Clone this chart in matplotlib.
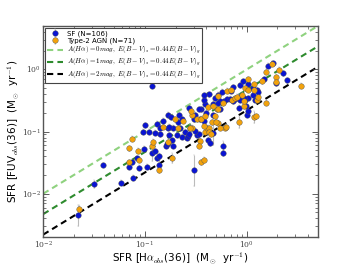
import matplotlib

matplotlib.use("Agg")

import matplotlib.pyplot as plt
import numpy as np

plt.rcParams["mathtext.fontset"] = "cm"
plt.rcParams["font.family"] = ["DejaVu Sans"]

# SF galaxies: SFR(Halpha_obs), SFR(FUV_obs)
sf_x = [0.116, 0.0218, 0.0315, 0.039, 0.058, 0.077, 0.088, 0.096, 0.10, 0.109,
        0.116, 0.132, 0.137, 0.13, 0.151, 0.16, 0.17, 0.17, 0.173, 0.183,
        0.19, 0.216, 0.211, 0.221, 0.231, 0.233, 0.257, 0.267, 0.273, 0.277,
        0.30, 0.303, 0.322, 0.342, 0.31, 0.347, 0.38, 0.39, 0.40, 0.42,
        0.436, 0.47, 0.47, 0.426, 0.47, 0.49, 0.527, 0.547, 0.577, 0.60,
        0.58, 0.59, 0.70, 0.74, 0.77, 0.86, 0.83, 0.91, 1.02, 1.16,
        1.02, 0.96, 0.93, 1.0, 1.04, 0.985, 1.16, 1.21, 1.25, 1.30,
        1.48, 1.61, 1.83, 1.93, 2.26, 2.51, 0.38, 0.353, 0.247, 0.205,
        0.167, 0.141, 0.098, 0.083, 0.074, 0.070, 0.547, 0.636, 0.686, 0.74,
        0.83, 0.527, 0.383, 0.34, 0.31, 0.273, 0.172, 0.18, 0.141, 0.125,
        0.138, 0.104, 0.163, 0.19, 0.86, 0.125]
sf_y = [0.545, 0.0045, 0.0144, 0.029, 0.015, 0.018, 0.026, 0.10, 0.127, 0.10,
        0.045, 0.037, 0.029, 0.133, 0.15, 0.059, 0.116, 0.188, 0.087, 0.073,
        0.116, 0.184, 0.14, 0.116, 0.157, 0.082, 0.08, 0.085, 0.24, 0.116,
        0.157, 0.024, 0.087, 0.09, 0.188, 0.157, 0.15, 0.28, 0.2, 0.074,
        0.065, 0.182, 0.096, 0.40, 0.28, 0.345, 0.39, 0.229, 0.44, 0.31,
        0.059, 0.045, 0.455, 0.514, 0.33, 0.56, 0.24, 0.65, 0.577, 0.50,
        0.347, 0.327, 0.35, 0.188, 0.217, 0.26, 0.39, 0.327, 0.47, 0.44,
        0.695, 1.14, 1.26, 0.60, 0.87, 0.67, 0.327, 0.229, 0.10, 0.089,
        0.065, 0.09, 0.0525, 0.037, 0.032, 0.027, 0.305, 0.33, 0.335, 0.305,
        0.366, 0.288, 0.385, 0.229, 0.103, 0.09, 0.12, 0.17, 0.116, 0.049,
        0.041, 0.027, 0.062, 0.059, 0.327, 0.095]

# Type-2 AGN
agn_x = [0.0226, 0.069, 0.074, 0.070, 0.086, 0.088, 0.116, 0.136, 0.151, 0.167,
         0.183, 0.197, 0.213, 0.238, 0.288, 0.292, 0.347, 0.356, 0.38, 0.39,
         0.404, 0.423, 0.43, 0.442, 0.453, 0.42, 0.507, 0.527, 0.496, 0.523,
         0.636, 0.707, 0.717, 0.612, 0.627, 0.768, 0.80, 0.89, 0.847, 0.93,
         0.94, 0.955, 1.18, 1.19, 1.18, 1.22, 1.25, 1.30, 1.41, 1.54,
         1.54, 1.76, 2.07, 1.93, 1.94, 3.45, 0.327, 0.358, 0.277, 0.121,
         0.281, 0.527, 0.47, 0.488, 0.392, 0.38, 0.342, 0.547, 0.589, 1.02,
         1.04]
agn_y = [0.0057, 0.054, 0.076, 0.032, 0.049, 0.035, 0.059, 0.024, 0.12, 0.068,
         0.037, 0.157, 0.116, 0.15, 0.182, 0.116, 0.071, 0.032, 0.035, 0.10,
         0.116, 0.116, 0.10, 0.09, 0.14, 0.245, 0.229, 0.135, 0.145, 0.38,
         0.455, 0.473, 0.327, 0.116, 0.12, 0.345, 0.366, 0.39, 0.142, 0.255,
         0.305, 0.50, 0.473, 0.58, 0.173, 0.176, 0.327, 0.366, 0.65, 0.91,
         0.29, 1.23, 0.99, 0.757, 0.63, 0.545, 0.157, 0.16, 0.115, 0.069,
         0.215, 0.235, 0.255, 0.176, 0.176, 0.123, 0.059, 0.115, 0.288, 0.473,
         0.69]

# y-error in dex: a default, plus the few visibly large bars
default_err = 0.04
sf_big_err = {1: 0.17, 31: 0.25, 10: 0.12, 12: 0.08, 42: 0.2, 50: 0.08, 2: 0.06}
agn_big_err = {0: 0.07, 7: 0.05, 44: 0.1, 38: 0.1, 10: 0.08}

# Attenuation model lines: SFR_FUV = factor * SFR_Halpha
line_labels = [
    r"$A(H\alpha)=0mag,\ E(B-V)_s=0.44E(B-V)_g$",
    r"$A(H\alpha)=1mag,\ E(B-V)_s=0.44E(B-V)_g$",
    r"$A(H\alpha)=2mag,\ E(B-V)_s=0.44E(B-V)_g$",
]
line_factors = [1.0, 0.47, 0.22]
line_colors = ["#8fd27f", "#2e8b2e", "#000000"]


def errs(y, big):
    y = np.asarray(y)
    dex = np.full(len(y), default_err)
    for i, v in big.items():
        dex[i] = v
    lo = y - y * 10 ** (-dex)
    hi = y * 10 ** dex - y
    return [lo, hi]


fig = plt.figure(figsize=(3.54, 2.65), dpi=100)
ax = fig.add_axes([0.122, 0.105, 0.776, 0.797])

xx = np.array([0.01, 5.0])
for lab, f, c in zip(line_labels, line_factors, line_colors):
    ax.plot(xx, f * xx, ls="--", color=c, lw=1.5, dashes=(3, 2), label=lab, zorder=1)

ax.errorbar(sf_x, sf_y, yerr=errs(sf_y, sf_big_err), fmt="o", color="#0a14d2",
            mec="#555555", mew=0.3, ms=4, ecolor="#bbbbbb", elinewidth=0.8,
            capsize=1, capthick=0.6, label="SF (N=106)", zorder=3)
ax.errorbar(agn_x, agn_y, yerr=errs(agn_y, agn_big_err), fmt="o", color="#f2a20c",
            mec="#555555", mew=0.3, ms=4, ecolor="#bbbbbb", elinewidth=0.8,
            capsize=1, capthick=0.6, label="Type-2 AGN (N=71)", zorder=3)

ax.set_xscale("log")
ax.set_yscale("log")
ax.set_xlim(0.01, 5)
ax.set_ylim(0.002, 5)

ax.tick_params(which="both", direction="in", top=True, right=True,
               colors="#444444", labelsize=5.5, pad=1.5)
ax.tick_params(which="major", length=4, width=0.6)
ax.tick_params(which="minor", length=2, width=0.5)
for lbl in ax.get_xticklabels() + ax.get_yticklabels():
    lbl.set_family("serif")
for s in ax.spines.values():
    s.set_color("#555555")
    s.set_linewidth(1.0)

ax.set_xlabel(r"SFR [H$\alpha_{obs}$(36)]  (M$_{\odot}$  yr$^{-1}$)", fontsize=7.5, labelpad=-0.5)
ax.set_ylabel(r"SFR [FUV$_{obs}$(36)]  (M$_{\odot}$  yr$^{-1}$)", fontsize=7.5, labelpad=1)

h, l = ax.get_legend_handles_labels()
order = [3, 4, 0, 1, 2]
leg = ax.legend([h[i] for i in order], [l[i] for i in order], loc="upper left",
                fontsize=5, frameon=True, fancybox=False, framealpha=1,
                borderaxespad=0.3, handlelength=2.2, labelspacing=0.12,
                borderpad=0.3, handletextpad=0.6)
leg.get_frame().set_edgecolor("#444444")
leg.get_frame().set_linewidth(0.8)

fig.savefig("out.png", dpi=100)
plt.close(fig)
